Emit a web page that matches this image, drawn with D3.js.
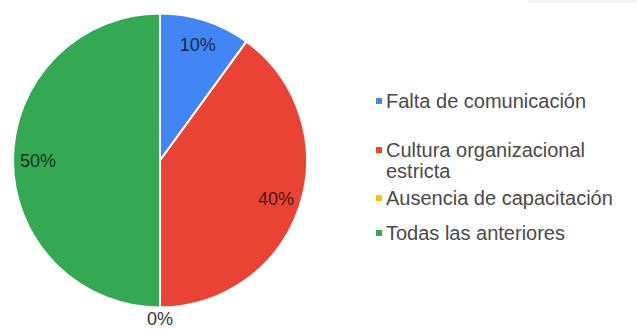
<!DOCTYPE html>
<html>
<head>
<meta charset="utf-8">
<script src="https://cdn.jsdelivr.net/npm/d3@7"></script>
<style>
  html, body { margin: 0; padding: 0; background: #fff; }
  svg { display: block; }
</style>
</head>
<body>
<svg id="chart" width="637" height="331"></svg>
<script>
// Survey answers and their shares (percent)
const categories = [
  "Falta de comunicación",
  "Cultura organizacional estricta",
  "Ausencia de capacitación",
  "Todas las anteriores"
];
const values = [10, 40, 0, 50];
const sliceColors = ["#4285f4", "#ea4335", "#fbbc04", "#34a853"];

const width = 637, height = 331;
const svg = d3.select("#chart");
const font = "'Liberation Sans', Arial, sans-serif";

// faint strip in the top-right corner
svg.append("rect")
  .attr("x", 528).attr("y", 0).attr("width", 109).attr("height", 3)
  .attr("fill", "#f3f3f3");

const cx = 160, cy = 160.5, radius = 147;
const total = d3.sum(values);

const pie = d3.pie().value(d => d).sort(null);
const arcs = pie(values);
const arc = d3.arc().innerRadius(0).outerRadius(radius);
const labelArc = d3.arc().innerRadius(radius * 0.83).outerRadius(radius * 0.83);
const outerLabelArc = d3.arc().innerRadius(radius + 11).outerRadius(radius + 11);
const isWide = d => (d.endAngle - d.startAngle) > 0.05;

const g = svg.append("g").attr("transform", `translate(${cx},${cy})`);

g.selectAll("path.slice")
  .data(arcs)
  .join("path")
  .attr("class", "slice")
  .attr("d", arc)
  .attr("fill", (d, i) => sliceColors[i])
  .attr("stroke", "#fff")
  .attr("stroke-width", 2)
  .attr("stroke-linejoin", "round");

const fmt = v => Math.round(v / total * 100) + "%";

g.selectAll("text.pct")
  .data(arcs)
  .join("text")
  .attr("class", "pct")
  .attr("transform", d => {
    const c = isWide(d) ? labelArc.centroid(d) : outerLabelArc.centroid(d);
    return `translate(${c[0]},${c[1]})`;
  })
  .attr("text-anchor", "middle")
  .attr("dy", "0.36em")
  .attr("font-family", font)
  .attr("font-size", 18)
  .attr("fill", d => isWide(d) ? "#000" : "#333")
  .attr("fill-opacity", d => isWide(d) ? 0.72 : 1)
  .text(d => fmt(d.data));

// Legend
const legendX = 376, textX = 386, lineH = 21, legendFont = 20;
const entryTops = [101, 150, 198, 233];
const maxTextW = width - textX - 2;

const legend = svg.append("g");
categories.forEach((name, i) => {
  const item = legend.append("g");
  item.append("rect")
    .attr("x", legendX).attr("y", entryTops[i] - 3)
    .attr("width", 6).attr("height", 6)
    .attr("fill", sliceColors[i]);
  const t = item.append("text")
    .attr("x", textX).attr("y", entryTops[i])
    .attr("dy", "0.35em")
    .attr("font-family", font)
    .attr("font-size", legendFont)
    .attr("fill", "#4a4a4a");
  // simple word wrap
  const words = name.split(" ");
  let line = [];
  let tspan = t.append("tspan").attr("x", textX);
  words.forEach(w => {
    line.push(w);
    tspan.text(line.join(" "));
    if (tspan.node().getComputedTextLength() > maxTextW && line.length > 1) {
      line.pop();
      tspan.text(line.join(" "));
      line = [w];
      tspan = t.append("tspan").attr("x", textX).attr("dy", lineH).text(w);
    }
  });
});
</script>
</body>
</html>
